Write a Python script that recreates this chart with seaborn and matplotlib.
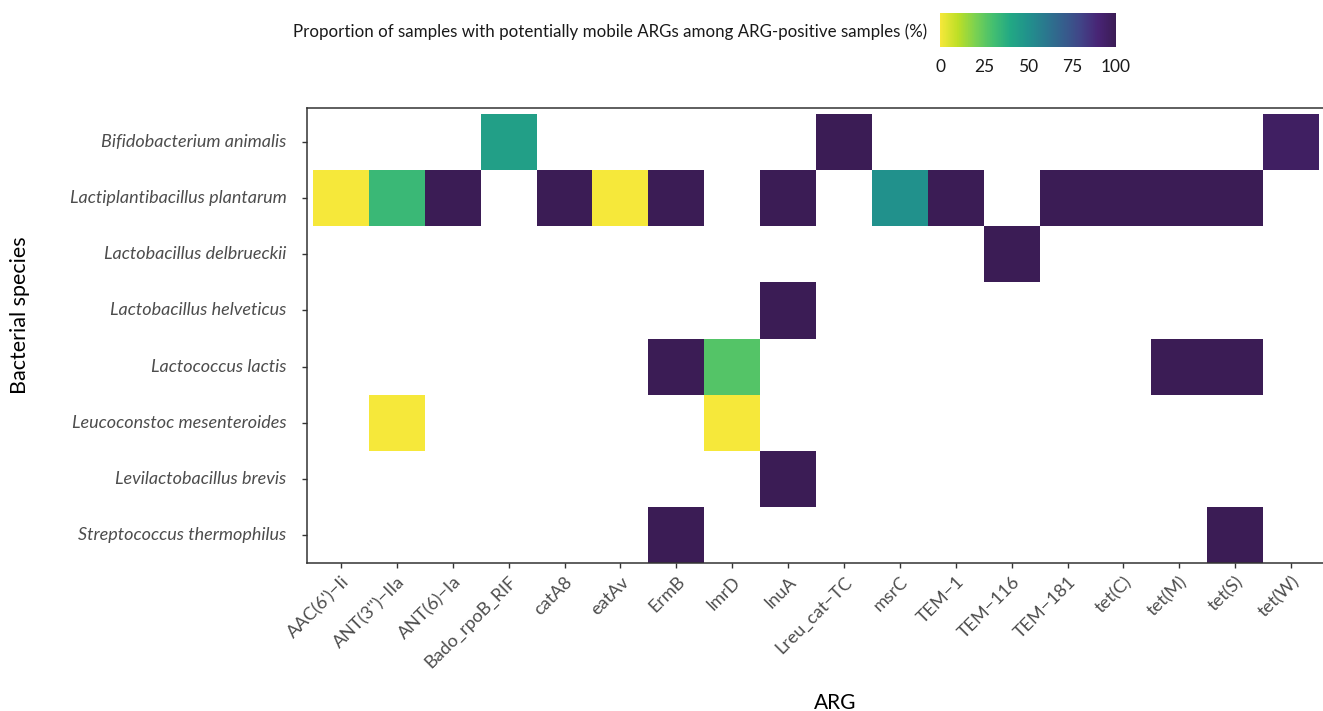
import numpy as np
import pandas as pd
import matplotlib
matplotlib.use("Agg")
import matplotlib.pyplot as plt
from matplotlib.colors import LinearSegmentedColormap
import seaborn as sns

species = [
    "Bifidobacterium animalis",
    "Lactiplantibacillus plantarum",
    "Lactobacillus delbrueckii",
    "Lactobacillus helveticus",
    "Lactococcus lactis",
    "Leucoconstoc mesenteroides",
    "Levilactobacillus brevis",
    "Streptococcus thermophilus",
]
args = [
    "AAC(6')\u2212Ii", "ANT(3'')\u2212IIa", "ANT(6)\u2212Ia", "Bado_rpoB_RIF", "catA8", "eatAv",
    "ErmB", "lmrD", "lnuA", "Lreu_cat\u2212TC", "msrC", "TEM\u22121", "TEM\u2212116", "TEM\u2212181",
    "tet(C)", "tet(M)", "tet(S)", "tet(W)",
]
nan = np.nan
# rows = species, columns = ARGs, values = % of samples with potentially mobile ARGs
v_animalis     = [nan, nan, nan, 44, nan, nan, nan, nan, nan, 100, nan, nan, nan, nan, nan, nan, nan, 96]
v_plantarum    = [0, 33, 100, nan, 100, 0, 100, nan, 100, nan, 50, 100, nan, 100, 100, 100, 100, nan]
v_delbrueckii  = [nan, nan, nan, nan, nan, nan, nan, nan, nan, nan, nan, nan, 100, nan, nan, nan, nan, nan]
v_helveticus   = [nan, nan, nan, nan, nan, nan, nan, nan, 100, nan, nan, nan, nan, nan, nan, nan, nan, nan]
v_lactis       = [nan, nan, nan, nan, nan, nan, 100, 27, nan, nan, nan, nan, nan, nan, nan, 100, 100, nan]
v_mesenteroides= [nan, 0, nan, nan, nan, nan, nan, 0, nan, nan, nan, nan, nan, nan, nan, nan, nan, nan]
v_brevis       = [nan, nan, nan, nan, nan, nan, nan, nan, 100, nan, nan, nan, nan, nan, nan, nan, nan, nan]
v_thermophilus = [nan, nan, nan, nan, nan, nan, 100, nan, nan, nan, nan, nan, nan, nan, nan, nan, 100, nan]
cbar_ticks = [0, 25, 50, 75, 100]

df = pd.DataFrame([v_animalis, v_plantarum, v_delbrueckii, v_helveticus, v_lactis,
                   v_mesenteroides, v_brevis, v_thermophilus], index=species, columns=args)

cmap = LinearSegmentedColormap.from_list("vir_r", [
    "#f6e83a", "#bddf26", "#7ad151", "#44bf70", "#22a884", "#21918c",
    "#2a788e", "#355f8d", "#414487", "#482475", "#3b1c55"])

sns.set_style("white")
plt.rcParams["font.family"] = ["Lato", "DejaVu Sans"]

W, H = 1323, 711
cell_w = (1319 - 313) / len(args)
fig = plt.figure(figsize=(W / 100, H / 100), dpi=100)
ax = fig.add_axes([307 / W, 1 - 563 / H, (1345 - 307) / W, (563 - 108) / H])
cax = fig.add_axes([940 / W, 1 - 47 / H, 176 / W, 34 / H])

sns.heatmap(df, ax=ax, cmap=cmap, vmin=0, vmax=100, cbar_ax=cax,
            cbar_kws={"orientation": "horizontal", "ticks": cbar_ticks})

ax.set_xlim(-6 / cell_w, len(args) + 26 / cell_w)
ax.set_ylim(len(species), -6 / 56)

for s in ["left", "top", "bottom"]:
    ax.spines[s].set_visible(True)
    ax.spines[s].set_color("#333333")
    ax.spines[s].set_linewidth(1.1)
ax.spines["right"].set_visible(False)

ax.set_xticks(np.arange(len(args)) + 0.5)
ax.set_xticklabels(args, rotation=45, ha="right", rotation_mode="anchor",
                   fontsize=13, color="#4d4d4d")
ax.set_yticks(np.arange(len(species)) + 0.5)
ax.set_yticklabels(species, rotation=0, fontsize=13, color="#4d4d4d", style="italic")
ax.tick_params(axis="both", length=3.6, width=1, color="#333333",
               bottom=True, left=True)
ax.tick_params(axis="y", pad=11)
ax.tick_params(axis="x", pad=4)
ax.set_xlabel("")
ax.set_ylabel("")

fig.text(835 / W, 1 - 703 / H, "ARG", ha="center", va="center", fontsize=15, color="black")
fig.text(20 / W, 1 - 315 / H, "Bacterial species", ha="center", va="center",
         rotation=90, fontsize=15.5, color="black")

# colorbar styling
cb = ax.collections[0].colorbar
cb.outline.set_visible(False)
cax.tick_params(axis="x", which="both", direction="in", color="white", length=7, width=1,
                top=True, bottom=True, labelsize=12.5, labelcolor="#1a1a1a", pad=9)
cax.set_xticklabels([str(t) for t in cbar_ticks])
fig.text(927 / W, 1 - 32 / H,
         "Proportion of samples with potentially mobile ARGs among ARG-positive samples (%)",
         ha="right", va="center", fontsize=12.2, color="#1a1a1a")

fig.savefig("out.png", dpi=100)
